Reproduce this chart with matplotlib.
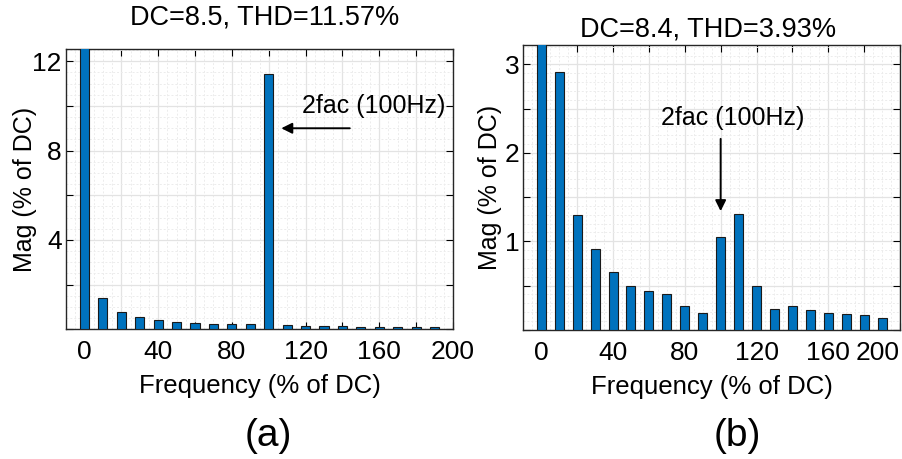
import numpy as np
import matplotlib
matplotlib.use('Agg')
import matplotlib.pyplot as plt
from matplotlib.ticker import MultipleLocator

plt.rcParams['font.family'] = ['Liberation Sans', 'DejaVu Sans']

# Harmonic spectra, frequency in % of DC, magnitude in % of DC
freq = np.arange(0, 200, 10)
mag_a = [14.0, 1.42, 0.76, 0.54, 0.40, 0.31, 0.27, 0.24, 0.22, 0.22,
         11.42, 0.18, 0.16, 0.13, 0.13, 0.11, 0.11, 0.10, 0.10, 0.09]
mag_b = [3.40, 2.92, 1.30, 0.91, 0.65, 0.495, 0.435, 0.40, 0.265, 0.19,
         1.045, 1.31, 0.49, 0.24, 0.265, 0.225, 0.19, 0.18, 0.165, 0.135]
title_a = 'DC=8.5, THD=11.57%'
title_b = 'DC=8.4, THD=3.93%'
x_ticks = np.arange(0, 201, 20)
x_labels = [str(v) if v % 40 == 0 else '' for v in x_ticks]
ya_ticks = np.arange(0, 13, 2)
ya_labels = [str(v) if v in (4, 8, 12) else '' for v in ya_ticks]
yb_ticks = np.arange(0, 3.01, 0.5)
yb_labels = [str(int(v)) if v in (1, 2, 3) else '' for v in yb_ticks]

bar_color = '#0072BD'
fs = 19

fig = plt.figure(figsize=(9.02, 4.59), dpi=100)
ax1 = fig.add_axes([0.0732, 0.2826, 0.429, 0.6107])
ax2 = fig.add_axes([0.5802, 0.2815, 0.4176, 0.6205])


def style(ax, ylim, yticks, ylabels, yminor, ypad):
    ax.set_xlim(-10, 200)
    ax.set_ylim(*ylim)
    ax.set_xticks(x_ticks)
    ax.set_xticklabels(x_labels, fontsize=fs)
    ax.set_yticks(yticks)
    ax.set_yticklabels(ylabels, fontsize=fs)
    ax.xaxis.set_minor_locator(MultipleLocator(5))
    ax.yaxis.set_minor_locator(MultipleLocator(yminor))
    ax.tick_params(which='both', direction='in', top=True, right=True)
    ax.tick_params(which='major', length=5, width=0.8)
    ax.tick_params(axis='x', which='major', pad=8)
    ax.tick_params(axis='y', which='major', pad=3)
    ax.tick_params(which='minor', length=0)
    ax.grid(which='major', color='#e3e3e3', lw=0.9)
    ax.grid(which='minor', color='#ececec', lw=0.7, ls=(0, (2, 2)))
    ax.set_axisbelow(True)
    for s in ax.spines.values():
        s.set_color('#262626')
        s.set_linewidth(1.0)
    ax.set_xlabel('Frequency (% of DC)', fontsize=18.5, labelpad=7)
    ax.set_ylabel('Mag (% of DC)', fontsize=18, labelpad=ypad)


ax1.bar(freq, mag_a, width=5, color=bar_color, edgecolor='#1a1a1a', lw=0.8, zorder=3)
ax2.bar(freq, mag_b, width=5, color=bar_color, edgecolor='#1a1a1a', lw=0.8, zorder=3)
style(ax1, (0, 12.55), ya_ticks, ya_labels, 0.5, -3)
style(ax2, (0, 3.22), yb_ticks, yb_labels, 0.1, 2)
ax2.get_xticklabels()[-1].set_ha('right')

# annotations
ax1.text(118, 10.0, '2fac (100Hz)', fontsize=18, va='center', ha='left')
ax1.annotate('', xy=(105.3, 9.0), xytext=(145.5, 9.0),
             arrowprops=dict(arrowstyle='-|>', color='k', lw=1.4, mutation_scale=16))
ax2.text(106.6, 2.39, '2fac (100Hz)', fontsize=18, va='center', ha='center')
ax2.annotate('', xy=(100, 1.31), xytext=(100, 2.19),
             arrowprops=dict(arrowstyle='-|>', color='k', lw=1.4, mutation_scale=16))

fig.text(265 / 902, 1 - 18 / 459, title_a, fontsize=19.5, ha='center', va='center')
fig.text(708 / 902, 1 - 29 / 459, title_b, fontsize=19.5, ha='center', va='center')
fig.text(268 / 902, 1 - 436 / 459, '(a)', fontsize=28, ha='center', va='center')
fig.text(737 / 902, 1 - 436 / 459, '(b)', fontsize=28, ha='center', va='center')

fig.savefig('out.png', dpi=100)
